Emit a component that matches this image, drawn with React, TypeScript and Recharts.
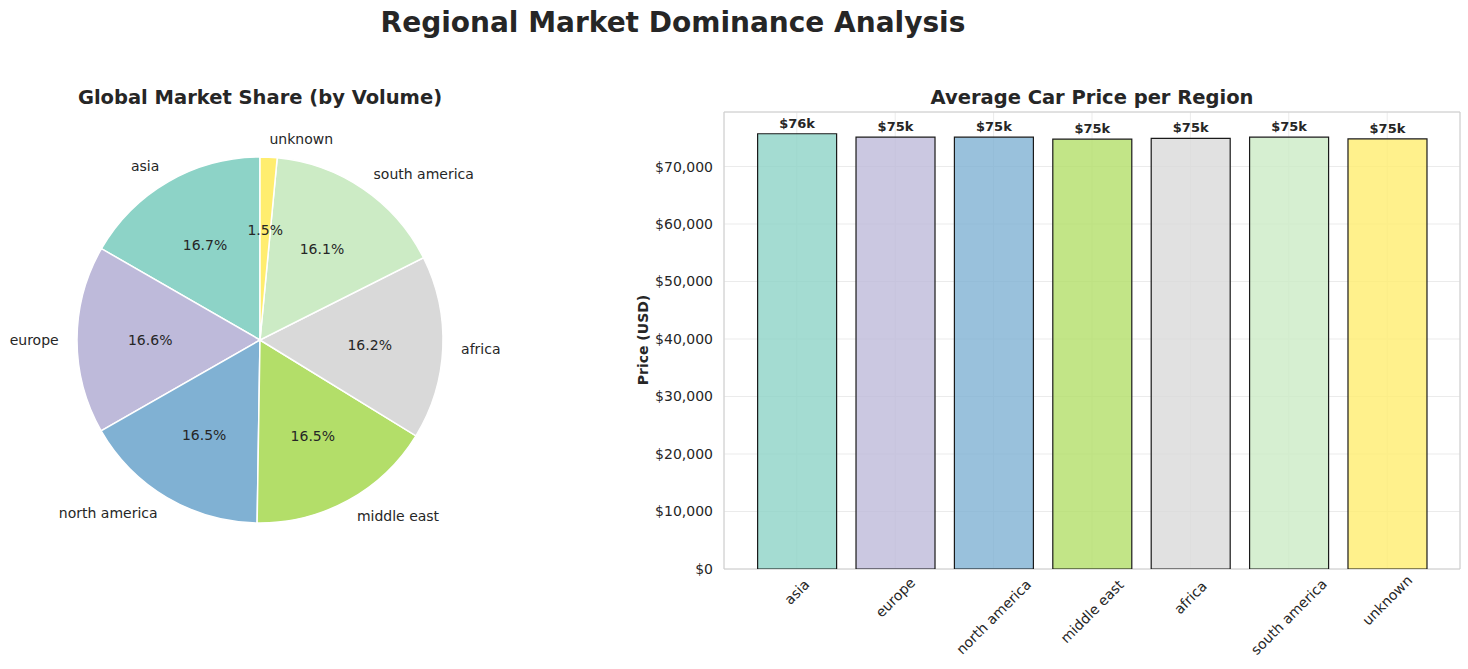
import React from 'react';
import { PieChart, Pie, Cell, BarChart, Bar, XAxis, YAxis, CartesianGrid, LabelList, ReferenceArea } from 'recharts';

const FONT = '"DejaVu Sans", Verdana, sans-serif';
const INK = '#262626';

// volume share by region (pie, counter-clockwise from 12 o'clock)
const shareRegions = ['asia', 'europe', 'north america', 'middle east', 'africa', 'south america', 'unknown'];
const shareValues = [16.7, 16.6, 16.5, 16.5, 16.2, 16.1, 1.5];
const shareColors = ['#8dd3c7', '#bebada', '#80b1d3', '#b3de69', '#d9d9d9', '#ccebc5', '#ffed6f'];

// average price per region (bar)
const priceRegions = ['asia', 'europe', 'north america', 'middle east', 'africa', 'south america', 'unknown'];
const priceValues = [75700, 75100, 75100, 74750, 74900, 75100, 74800];
const priceColors = ['#8dd3c7', '#bebada', '#80b1d3', '#b3de69', '#d9d9d9', '#ccebc5', '#ffed6f'];
const priceTicks = [0, 10000, 20000, 30000, 40000, 50000, 60000, 70000];

const pieData = shareRegions.map((name, i) => ({ name, value: shareValues[i] }));
const barData = priceRegions.map((name, i) => ({ idx: i, name, price: priceValues[i] }));

const Y_MAX = Math.max(...priceValues) * 1.05;
const X_MIN = -0.74;
const X_MAX = 6.74;

const RAD = Math.PI / 180;

const renderPieLabel = (p: any) => {
  const { cx, cy, midAngle, outerRadius, percent, name } = p;
  const cos = Math.cos(-midAngle * RAD);
  const sin = Math.sin(-midAngle * RAD);
  const nx = cx + outerRadius * 1.1 * cos;
  const ny = cy + outerRadius * 1.1 * sin;
  const px = cx + outerRadius * 0.6 * cos;
  const py = cy + outerRadius * 0.6 * sin;
  return (
    <g>
      <text x={nx} y={ny} textAnchor={nx > cx ? 'start' : 'end'} dominantBaseline="central"
        fill={INK} fontSize={14} fontFamily={FONT}>
        {name}
      </text>
      <text x={px} y={py} textAnchor="middle" dominantBaseline="central"
        fill={INK} fontSize={14} fontFamily={FONT}>
        {(percent * 100).toFixed(1)}%
      </text>
    </g>
  );
};

const RotatedTick = (props: any) => {
  const { x, y, payload } = props;
  const label = priceRegions[payload.value] ?? '';
  const w = label.length * 7.8;
  const h = 14;
  const half = (w * 0.7071 + h * 0.7071) / 2;
  const cy = y - 1 + half;
  return (
    <text x={x} y={cy} textAnchor="middle" dominantBaseline="central"
      transform={`rotate(-45, ${x}, ${cy})`} fill={INK} fontSize={14} fontFamily={FONT}>
      {label}
    </text>
  );
};

export default function App() {
  return (
    <div style={{ position: 'absolute', left: 0, top: 0, width: 1468, height: 669, background: '#fff', fontFamily: FONT, color: INK }}>
      <div style={{ position: 'absolute', left: 0, top: 6, width: 1346, textAlign: 'center', fontSize: 28, fontWeight: 'bold' }}>
        Regional Market Dominance Analysis
      </div>

      <div style={{ position: 'absolute', left: 0, top: 86, width: 520, textAlign: 'center', fontSize: 19.5, fontWeight: 'bold' }}>
        Global Market Share (by Volume)
      </div>

      <div style={{ position: 'absolute', left: 724, top: 86, width: 736, textAlign: 'center', fontSize: 19.5, fontWeight: 'bold' }}>
        Average Car Price per Region
      </div>

      <div style={{ position: 'absolute', left: 0, top: 0 }}>
        <PieChart width={560} height={669} margin={{ top: 0, right: 0, bottom: 0, left: 0 }}>
          <Pie data={pieData} dataKey="value" nameKey="name" cx={260} cy={340} outerRadius={183}
            startAngle={90} endAngle={450} stroke="#ffffff" strokeWidth={1.5}
            label={renderPieLabel} labelLine={false} isAnimationActive={false}>
            {pieData.map((d, i) => (
              <Cell key={d.name} fill={shareColors[i]} />
            ))}
          </Pie>
        </PieChart>
      </div>

      <div style={{ position: 'absolute', left: 600, top: 0 }}>
        <BarChart width={868} height={669} data={barData} margin={{ top: 112, right: 8, left: 24, bottom: 0 }}>
          <CartesianGrid stroke="#ebebeb" strokeWidth={1} />
          <XAxis dataKey="idx" type="number" domain={[X_MIN, X_MAX]} ticks={[0, 1, 2, 3, 4, 5, 6]}
            allowDataOverflow height={100} axisLine={false} tickLine={false} tick={<RotatedTick />} interval={0} />
          <YAxis type="number" domain={[0, Y_MAX]} ticks={priceTicks} allowDataOverflow width={100}
            axisLine={false} tickLine={false} tickSize={9} tickMargin={2}
            tickFormatter={(v: number) => `$${v.toLocaleString('en-US')}`}
            tick={{ fill: INK, fontSize: 14, fontFamily: FONT }} />
          <Bar dataKey="price" barSize={79} stroke="#1a1a1a" strokeWidth={1.2} isAnimationActive={false}>
            {barData.map((d, i) => (
              <Cell key={d.name} fill={priceColors[i]} fillOpacity={0.8} />
            ))}
            <LabelList dataKey="price" position="top" offset={6}
              formatter={(v: any) => `$${Math.round(Number(v) / 1000)}k`}
              style={{ fill: INK, fontSize: 13, fontWeight: 'bold', fontFamily: FONT }} />
          </Bar>
          <ReferenceArea x1={X_MIN} x2={X_MAX} y1={0} y2={Y_MAX} fill="none" stroke="#cccccc" strokeWidth={1} ifOverflow="visible" />
        </BarChart>
      </div>

      <div style={{ position: 'absolute', left: 643 - 60, top: 340 - 9, width: 120, height: 18, textAlign: 'center',
        transform: 'rotate(-90deg)', fontSize: 14, fontWeight: 'bold', lineHeight: '18px' }}>
        Price (USD)
      </div>
    </div>
  );
}
